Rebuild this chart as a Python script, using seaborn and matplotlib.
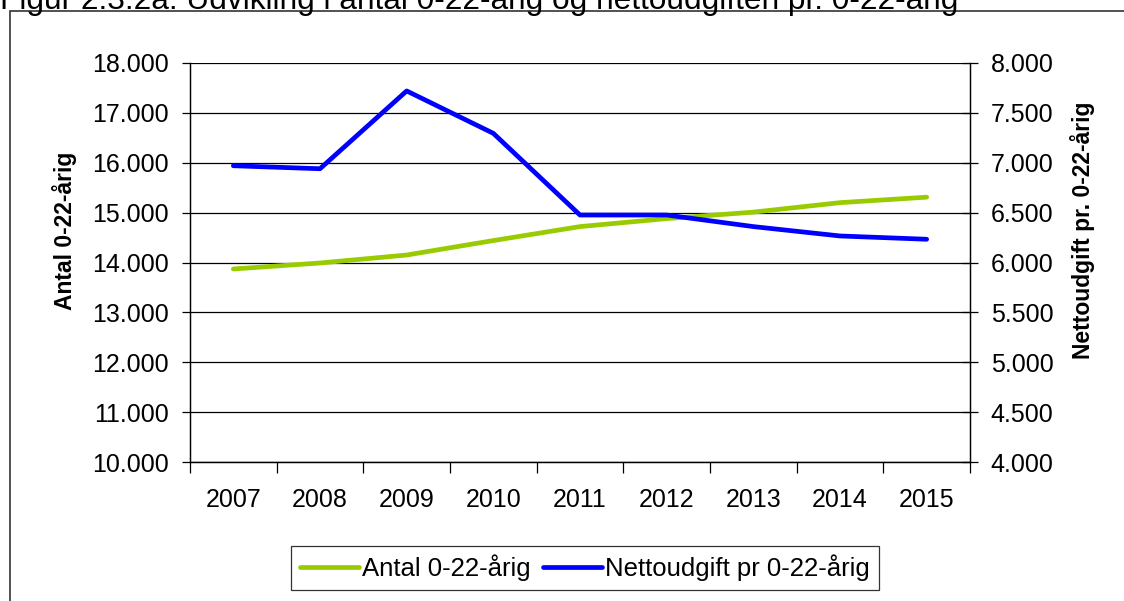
import pandas as pd
import seaborn as sns
import matplotlib.pyplot as plt
from matplotlib.patches import Rectangle
from matplotlib.lines import Line2D
from matplotlib.ticker import FuncFormatter, MultipleLocator

# Data
years = [2007, 2008, 2009, 2010, 2011, 2012, 2013, 2014, 2015]
antal = [13870, 13990, 14150, 14440, 14720, 14880, 15010, 15200, 15310]
nettoudgift = [6970, 6940, 7720, 7295, 6476, 6476, 6360, 6266, 6233]

df = pd.DataFrame({"Year": years, "Antal": antal, "Netto": nettoudgift})

sns.set_style("white")
plt.rcParams["font.family"] = ["Liberation Sans", "DejaVu Sans"]
# plain black text like the original Excel chart
plt.rcParams.update({"text.color": "black", "axes.labelcolor": "black",
                     "xtick.color": "black", "ytick.color": "black"})

green = "#99CC00"
blue = "#0000FF"

fig = plt.figure(figsize=(11.24, 6.01), dpi=100)
ax = fig.add_axes([190 / 1124, 1 - 462 / 601, 780 / 1124, 399 / 601])
ax2 = ax.twinx()

sns.lineplot(data=df, x="Year", y="Antal", ax=ax, color=green, linewidth=3.4,
             solid_capstyle="round", legend=False)
sns.lineplot(data=df, x="Year", y="Netto", ax=ax2, color=blue, linewidth=3.4,
             solid_capstyle="round", legend=False)

# number format with dot as thousands separator
dotfmt = FuncFormatter(lambda v, p: f"{int(v):,}".replace(",", "."))

ax.set_xlim(2006.5, 2015.5)
ax.set_ylim(10000, 18000)
ax2.set_ylim(4000, 8000)
ax.yaxis.set_major_locator(MultipleLocator(1000))
ax2.yaxis.set_major_locator(MultipleLocator(500))
ax.yaxis.set_major_formatter(dotfmt)
ax2.yaxis.set_major_formatter(dotfmt)

ax.set_xticks(years)
ax.set_xticklabels([str(y) for y in years])
ax.set_xticks([y + 0.5 for y in [2006] + years], minor=True)

ax.grid(True, axis="y", color="black", linewidth=0.9)
ax.set_axisbelow(True)

ax.tick_params(axis="x", which="major", length=0, pad=19, labelsize=18)
ax.tick_params(axis="x", which="minor", length=8, width=0.9, color="black",
               direction="out", bottom=True)
ax.tick_params(axis="y", length=6, width=0.9, color="black", direction="out",
               pad=9, labelsize=18, left=True)
ax2.tick_params(axis="y", length=12, width=0.9, color="black", direction="inout",
                pad=9, labelsize=18, right=True)

for a in (ax, ax2):
    a.spines["top"].set_visible(False)
    for s in ("left", "right", "bottom"):
        a.spines[s].set_color("black")
        a.spines[s].set_linewidth(0.9)

ax.set_xlabel("")
ax.set_ylabel("Antal 0-22-årig", fontsize=16.5, fontweight="bold", labelpad=11)
ax2.set_ylabel("Nettoudgift pr. 0-22-årig", fontsize=16.5, fontweight="bold",
               labelpad=12)
ax.yaxis.label.set_y(0.58)
ax2.yaxis.label.set_y(0.58)

handles = [Line2D([], [], color=green, linewidth=3.4, solid_capstyle="round"),
           Line2D([], [], color=blue, linewidth=3.4, solid_capstyle="round")]
leg = fig.legend(handles, ["Antal 0-22-årig", "Nettoudgift pr 0-22-årig"],
                 loc="center", bbox_to_anchor=(585 / 1124, 1 - 568 / 601),
                 ncol=2, fontsize=18.5, frameon=True, fancybox=False,
                 handlelength=2.3, handletextpad=0.1, columnspacing=0.5,
                 borderpad=0.35, borderaxespad=0)
leg.get_frame().set_edgecolor("black")
leg.get_frame().set_linewidth(0.9)

# outer chart border, partly beyond the picture edge
fig.patches.append(Rectangle((10 / 1124, -0.05), 1.1, 1.05 - 11 / 601,
                             transform=fig.transFigure, fill=False,
                             edgecolor="#333333", linewidth=1.2, clip_on=False))

# figure caption, cut off at the top like in the source
fig.text(0.0, 1 - 9 / 601,
         "Figur 2.3.2a: Udvikling i antal 0-22-årig og nettoudgiften pr. 0-22-årig",
         fontsize=22.8, ha="left", va="baseline")

fig.savefig("out.png", dpi=100)
